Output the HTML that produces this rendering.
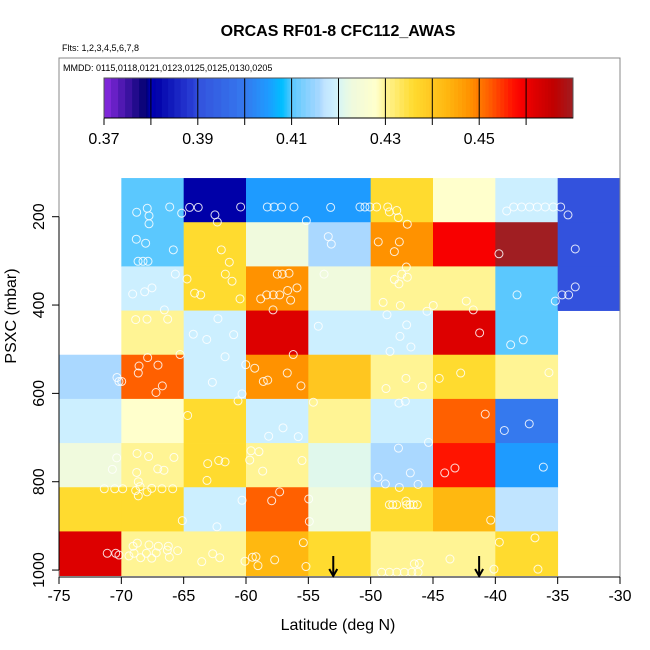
<!DOCTYPE html>
<html><head><meta charset="utf-8"><style>
html,body{margin:0;padding:0;background:#fff}
svg{display:block;font-family:"Liberation Sans",sans-serif}
</style></head><body>
<svg id="chart" width="650" height="650" viewBox="0 0 650 650">
<text x="338" y="36" text-anchor="middle" font-size="16" font-weight="bold">ORCAS RF01-8 CFC112_AWAS</text>
<text x="62" y="51" font-size="9">Flts: 1,2,3,4,5,6,7,8</text>
<text x="63" y="71" font-size="9">MMDD: 0115,0118,0121,0123,0125,0125,0130,0205</text>
<g id="cells"></g>
<g id="pts"></g>
<g id="arrows"></g>
<rect x="59" y="58" width="561" height="519" fill="none" stroke="#888" stroke-width="1"/>
<g id="cbar"></g>
<g id="axes"></g>
<text x="338" y="630" text-anchor="middle" font-size="16">Latitude (deg N)</text>
<text transform="translate(16,316) rotate(-90)" text-anchor="middle" font-size="16">PSXC (mbar)</text>
</svg>
<script>
const latEdges=[-75,-70,-65,-60,-55,-50,-45,-40,-35,-30];
const presEdges=[112.5,212.5,312.5,412.5,512.5,612.5,712.5,812.5,912.5,1012.5];
// rows top->bottom, cols -75..-30 ; null = no data
const cellValues=[
[null,0.410,0.381,0.405,0.405,0.436,0.428,0.419,0.390],
[null,0.410,0.436,0.423,0.416,0.448,0.459,0.470,0.390],
[null,0.419,0.436,0.448,0.423,0.430,0.430,0.410,0.390],
[null,0.430,0.419,0.462,0.419,0.419,0.462,0.410,null],
[0.416,0.452,0.419,0.448,0.440,0.430,0.436,0.430,null],
[0.419,0.428,0.436,0.419,0.430,0.419,0.452,0.400,null],
[0.423,0.430,0.436,0.430,0.421,0.416,0.457,0.405,null],
[0.436,0.436,0.419,0.452,0.423,0.436,0.443,0.417,null],
[0.462,0.430,0.430,0.443,0.436,0.430,0.430,0.436,null]];
const xTicks=[-75,-70,-65,-60,-55,-50,-45,-40,-35,-30];
const yTicks=[200,400,600,800,1000];
const cbTicks=[0.37,0.38,0.39,0.40,0.41,0.42,0.43,0.44,0.45,0.46];
const cbLabels=[0.37,0.39,0.41,0.43,0.45];
const arrowLats=[-53.0,-41.3];
const ptLat=[-68.77,-67.92,-67.78,-67.78,-66.12,-65.16,-64.52,-63.83,-60.43,-62.49,-62.30,-58.29,-57.75,-57.14,-56.15,-55.16,-53.21,-68.80,-68.05,-65.83,-68.66,-68.26,-67.86,-61.98,-61.34,-53.40,-53.16,-65.67,-64.73,-61.66,-61.12,-69.09,-68.13,-67.54,-64.12,-63.63,-60.48,-57.49,-57.09,-56.55,-55.91,-56.66,-58.82,-58.34,-57.81,-57.30,-56.42,-57.83,-53.74,-66.55,-68.85,-67.94,-66.28,-62.25,-64.23,-63.15,-60.99,-54.20,-56.21,-65.29,-67.89,-68.58,-67.06,-61.68,-60.02,-59.30,
-50.86,-50.46,-50.06,-49.52,-48.63,-48.50,-47.91,-47.78,-47.06,-38.53,-37.89,-37.25,-36.63,-36.00,-35.36,-39.09,-34.76,-34.17,-49.39,-47.70,-48.10,-39.71,-33.59,-47.14,-47.51,-47.06,-48.10,-47.73,-33.59,-34.65,-34.12,-35.19,-38.26,-49.0,-47.62,-44.98,-45.48,-42.33,-41.77,-48.69,-47.11,-47.65,-46.77,-48.45,-41.26,-37.76,-38.77,
-70.35,-70.19,-69.97,-68.64,-66.71,-67.22,-62.70,-60.32,-60.64,-58.61,-58.26,-55.59,-56.69,-54.60,-64.68,-57.03,-58.18,-55.81,-68.74,-67.81,-65.78,-70.37,-70.72,-67.08,-66.58,-68.77,-68.64,-71.37,-70.53,-69.89,-68.85,-68.50,-67.56,-67.94,-66.74,-65.88,-68.64,-63.07,-62.19,-61.68,-63.13,-59.60,-58.96,-59.70,-58.66,-55.51,-57.30,-57.94,-54.97,-54.92,-60.32,-62.33,-65.11,
-71.13,-70.45,-70.19,-69.06,-68.72,-67.78,-67.03,-66.23,-65.48,-69.39,-68.98,-68.45,-67.99,-67.56,-67.20,-66.31,-66.15,-62.67,-62.11,-63.55,-60.08,-59.49,-59.20,-59.04,-57.70,-55.40,-55.19,
-48.77,-47.17,-45.86,-44.50,-42.78,-35.70,-47.73,-47.22,-40.81,-37.28,-39.28,-45.36,-47.77,-49.41,-48.82,-47.70,-46.82,-46.20,-44.06,-43.24,-36.15,-48.50,-48.23,-47.91,-47.11,-46.85,-46.58,-46.26,-47.17,-40.37,-39.68,-36.82,-43.64,-40.11,-36.58,-49.12,-48.5,-47.9,-47.3,-46.7,-46.2,-46.50,-46.10];
const ptPres=[190,181,198,216,178,192,179,179,178,196,212,178,178,178,178,209,179,251,260,275,301,301,301,275,303,245,262,330,341,330,346,375,370,361,373,377,386,330,330,328,361,367,386,377,377,377,389,411,330,411,433,432,432,431,466,478,467,448,512,512,519,538,536,517,535,543,
178,178,178,178,178,189,186,202,217,178,178,178,178,178,178,187,178,196,257,257,279,284,273,314,330,337,342,352,359,377,377,391,377,394,401,401,414,391,411,422,445,471,495,505,463,479,490,
564,573,573,554,583,598,575,601,617,573,570,583,554,620,650,678,697,698,736,743,745,746,772,771,774,779,800,816,816,816,820,811,815,823,816,816,832,759,752,755,797,730,732,751,776,752,823,843,839,890,842,902,888,
962,962,966,946,939,943,946,946,956,968,962,972,962,973,961,955,971,963,972,981,980,971,970,990,977,938,992,
589,566,584,566,554,553,622,618,647,669,684,711,724,790,805,813,780,806,780,769,767,852,852,852,852,852,852,852,844,887,937,927,975,998,998,1005,1005,1005,1005,1005,1005,986,985];

const stops=[[0.370,'#8a2be2'],[0.379,'#000070'],[0.380,'#0000c0'],[0.381,'#0000a8'],[0.389,'#2a3fd6'],[0.390,'#3352dd'],[0.400,'#3579ee'],[0.405,'#1e9bff'],[0.408,'#00bfff'],[0.410,'#5bc8fe'],[0.416,'#aad8ff'],[0.417,'#c0e4ff'],[0.419,'#ccefff'],[0.421,'#e0f8ec'],[0.423,'#f0fadd'],[0.428,'#ffffcc'],[0.430,'#fff494'],[0.436,'#ffdb2f'],[0.440,'#ffc620'],[0.443,'#ffb810'],[0.448,'#ff9200'],[0.452,'#ff6000'],[0.457,'#ff1400'],[0.459,'#f80000'],[0.462,'#dd0000'],[0.466,'#c00000'],[0.470,'#a01e22']];
function hex(c){return [1,3,5].map(i=>parseInt(c.substr(i,2),16));}
function color(v){
  if(v<=stops[0][0])return stops[0][1];
  for(let i=1;i<stops.length;i++){if(v<=stops[i][0]){const a=stops[i-1],b=stops[i];const t=(v-a[0])/(b[0]-a[0]);const A=hex(a[1]),B=hex(b[1]);return 'rgb('+A.map((x,k)=>Math.round(x+(B[k]-x)*t)).join(',')+')';}}
  return stops[stops.length-1][1];
}
const X=lat=>59+(lat+75)*561/45;
const Y=p=>216.7+(p-200)*0.4417;
const CX=v=>104+(v-0.37)*4690;
const NS='http://www.w3.org/2000/svg';
function mk(tag,attrs,parent){const e=document.createElementNS(NS,tag);for(const k in attrs)e.setAttribute(k,attrs[k]);parent.appendChild(e);return e;}
const cells=document.getElementById('cells');
for(let r=0;r<cellValues.length;r++)for(let c=0;c<cellValues[r].length;c++){
  const v=cellValues[r][c];if(v===null)continue;
  const e=mk('rect',{x:X(latEdges[c]),y:Y(presEdges[r]),width:X(latEdges[c+1])-X(latEdges[c])+0.4,height:Y(presEdges[r+1])-Y(presEdges[r])+0.4,fill:color(v)},cells);
  
  
}
const pts=document.getElementById('pts');
for(let i=0;i<ptLat.length;i++){
  const e=mk('circle',{cx:X(ptLat[i]),cy:Y(ptPres[i]),r:4,fill:'none',stroke:'#fff','stroke-width':1,'stroke-opacity':0.85},pts);
  
  
}
const arr=document.getElementById('arrows');
arrowLats.forEach(l=>{
  const g=mk('g',{},arr);
  
  
  mk('line',{x1:X(l),y1:556,x2:X(l),y2:576,stroke:'#000','stroke-width':2},g);
  mk('polyline',{points:(X(l)-4)+',569 '+X(l)+',576 '+(X(l)+4)+',569',fill:'none',stroke:'#000','stroke-width':2},g);
});
const cb=document.getElementById('cbar');
mk('rect',{x:104,y:78,width:469,height:40,fill:'#fff'},cb);
for(let i=0;i<stops.length-1;i++){
  const a=stops[i],b=stops[i+1];const n=6;
  for(let k=0;k<n;k++){const v0=a[0]+(b[0]-a[0])*k/n,v1=a[0]+(b[0]-a[0])*(k+1)/n;
    mk('rect',{x:CX(v0),y:78,width:CX(v1)-CX(v0)+0.5,height:40,fill:color((v0+v1)/2)},cb);}
}
cbTicks.forEach(t=>{
  const e=mk('line',{x1:CX(t),y1:78,x2:CX(t),y2:125,stroke:'#000','stroke-width':1},cb);
  
  
});
mk('rect',{x:104,y:78,width:469,height:40,fill:'none',stroke:'#555','stroke-width':1},cb);
mk('line',{x1:104,y1:118,x2:573,y2:118,stroke:'#000','stroke-width':1},cb);
cbLabels.forEach(t=>{
  const e=mk('text',{x:CX(t),y:144,'text-anchor':'middle','font-size':16},cb);
  e.textContent=t.toFixed(2);
  
  
});
const ax=document.getElementById('axes');
mk('line',{x1:59,y1:577,x2:620,y2:577,stroke:'#000','stroke-width':1},ax);
mk('line',{x1:59,y1:Y(200),x2:59,y2:Y(1000),stroke:'#000','stroke-width':1},ax);
xTicks.forEach(t=>{
  mk('line',{x1:X(t),y1:577,x2:X(t),y2:584,stroke:'#000'},ax);
  const e=mk('text',{x:X(t),y:601,'text-anchor':'middle','font-size':16},ax);
  e.textContent=t;
  
  
});
yTicks.forEach(t=>{
  mk('line',{x1:52,y1:Y(t),x2:59,y2:Y(t),stroke:'#000'},ax);
  const e=mk('text',{transform:'translate(44,'+Y(t)+') rotate(-90)','text-anchor':'middle','font-size':16},ax);
  e.textContent=t;
  
  
});
</script>
</body></html>
